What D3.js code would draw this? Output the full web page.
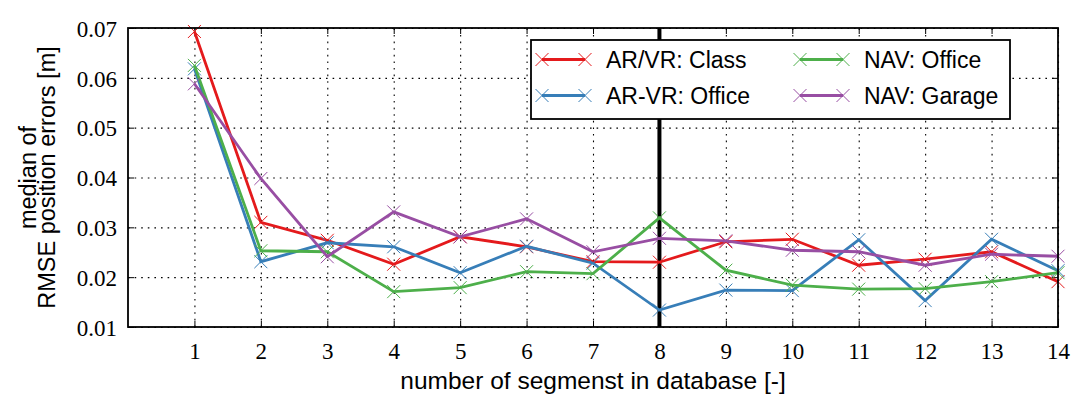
<!DOCTYPE html>
<html>
<head>
<meta charset="utf-8">
<script src="https://cdn.jsdelivr.net/npm/d3@7"></script>
<style>
  html, body { margin: 0; padding: 0; background: #fff; }
  svg { display: block; }
</style>
</head>
<body>
<svg id="chart" width="1086" height="409"></svg>
<script>
// ---- data ----
const segments = [1, 2, 3, 4, 5, 6, 7, 8, 9, 10, 11, 12, 13, 14];
const arvrClass  = [0.0693, 0.0310, 0.0274, 0.0226, 0.0281, 0.0261, 0.0231, 0.0230, 0.0271, 0.0276, 0.0224, 0.0236, 0.0251, 0.0191];
const arvrOffice = [0.0618, 0.0231, 0.0269, 0.0261, 0.0209, 0.0262, 0.0228, 0.0134, 0.0174, 0.0173, 0.0275, 0.0153, 0.0276, 0.0213];
const navOffice  = [0.0625, 0.0253, 0.0251, 0.0171, 0.0179, 0.0211, 0.0207, 0.0319, 0.0214, 0.0184, 0.0176, 0.0177, 0.0191, 0.0209];
const navGarage  = [0.0588, 0.0398, 0.0241, 0.0331, 0.0281, 0.0317, 0.0251, 0.0278, 0.0273, 0.0254, 0.0251, 0.0224, 0.0246, 0.0242];
const seriesNames = ["AR/VR: Class", "AR-VR: Office", "NAV: Office", "NAV: Garage"];
const seriesColors = ["#e41a1c", "#377eb8", "#4daf4a", "#984ea3"];
const xTickValues = [1, 2, 3, 4, 5, 6, 7, 8, 9, 10, 11, 12, 13, 14];
const yTickValues = [0.01, 0.02, 0.03, 0.04, 0.05, 0.06, 0.07];
const markerLineAt = 8;
const xLabel = "number of segmenst in database [-]";
const yLabelLines = ["median of", "RMSE position errors [m]"];

const allSeries = [arvrClass, arvrOffice, navOffice, navGarage];

// ---- layout ----
const svg = d3.select("#chart");
const L = 128, R = 1058, T = 28, B = 327;
const x = d3.scaleLinear().domain([0, 14]).range([L, R]);
const y = d3.scaleLinear().domain([0.01, 0.07]).range([B, T]);

const serif = "'Liberation Serif', 'DejaVu Serif', serif";
const sans = "'Liberation Sans', Arial, sans-serif";

// grid (dotted)
const gx = svg.append("g").attr("transform", `translate(0,${B})`)
  .call(d3.axisBottom(x).tickValues(xTickValues).tickSize(-(B - T)).tickFormat(""));
const gy = svg.append("g").attr("transform", `translate(${L},0)`)
  .call(d3.axisLeft(y).tickValues(yTickValues).tickSize(-(R - L)).tickFormat(""));
[gx, gy].forEach(g => {
  g.select(".domain").remove();
  g.selectAll(".tick line").attr("stroke", "#000").attr("stroke-width", 1.1)
    .attr("stroke-dasharray", "1.6,5");
});

// vertical reference line
svg.append("line")
  .attr("x1", x(markerLineAt)).attr("x2", x(markerLineAt))
  .attr("y1", y(0.01)).attr("y2", y(0.07))
  .attr("stroke", "#000").attr("stroke-width", 4);

// axes with inward ticks (all four sides)
const ab = svg.append("g").attr("transform", `translate(0,${B})`)
  .call(d3.axisBottom(x).tickValues(xTickValues).tickSize(-6).tickPadding(16).tickFormat(d3.format("d")));
const at = svg.append("g").attr("transform", `translate(0,${T})`)
  .call(d3.axisTop(x).tickValues(xTickValues).tickSize(-6).tickFormat(""));
const al = svg.append("g").attr("transform", `translate(${L},0)`)
  .call(d3.axisLeft(y).tickValues(yTickValues).tickSize(-6).tickPadding(11).tickFormat(d3.format(".2f")));
const ar = svg.append("g").attr("transform", `translate(${R},0)`)
  .call(d3.axisRight(y).tickValues(yTickValues).tickSize(-6).tickFormat(""));
[ab, at, al, ar].forEach(g => {
  g.select(".domain").remove();
  g.selectAll(".tick line").attr("stroke", "#000").attr("stroke-width", 1);
  g.selectAll("text").attr("font-family", serif).attr("font-size", 23).attr("fill", "#000");
});
ab.selectAll("text").attr("dy", "0.71em");
al.selectAll("text").attr("dy", "0.36em");

// series
const line = d3.line().x((d, i) => x(segments[i])).y(d => y(d));
const xMark = "M-6.5,-6.5L6.5,6.5M-6.5,6.5L6.5,-6.5";
allSeries.forEach((vals, si) => {
  const g = svg.append("g");
  g.append("path").datum(vals).attr("d", line)
    .attr("fill", "none").attr("stroke", seriesColors[si]).attr("stroke-width", 2.8)
    .attr("stroke-linejoin", "miter");
  g.selectAll("path.m").data(vals).join("path").attr("class", "m")
    .attr("transform", (d, i) => `translate(${x(segments[i])},${y(d)})`)
    .attr("d", xMark).attr("stroke", seriesColors[si]).attr("stroke-width", 1).attr("fill", "none");
});

// frame
svg.append("rect").attr("x", L).attr("y", T).attr("width", R - L).attr("height", B - T)
  .attr("fill", "none").attr("stroke", "#000").attr("stroke-width", 1.8);

// legend
const lg = svg.append("g");
lg.append("rect").attr("x", 531).attr("y", 40).attr("width", 479).attr("height", 79)
  .attr("fill", "#fff").attr("stroke", "#000").attr("stroke-width", 1.8);
const legPos = [[542, 59.5], [542, 95.5], [800, 59.5], [800, 95.5]];
seriesNames.forEach((name, i) => {
  const [lx, ly] = legPos[i];
  lg.append("line").attr("x1", lx).attr("x2", lx + 43).attr("y1", ly).attr("y2", ly)
    .attr("stroke", seriesColors[i]).attr("stroke-width", 2.8);
  [lx, lx + 43].forEach(mx => {
    lg.append("path").attr("transform", `translate(${mx},${ly})`).attr("d", xMark)
      .attr("stroke", seriesColors[i]).attr("stroke-width", 1).attr("fill", "none");
  });
  lg.append("text").attr("x", lx + 64).attr("y", ly).attr("dy", "0.36em")
    .attr("font-family", sans).attr("font-size", 23).attr("fill", "#000").text(name);
});

// axis labels
svg.append("text").attr("x", (L + R) / 2).attr("y", 389).attr("text-anchor", "middle")
  .attr("font-family", sans).attr("font-size", 24.5).attr("fill", "#000").text(xLabel);
const yl = svg.append("text").attr("transform", `translate(0,${(T + B) / 2}) rotate(-90)`)
  .attr("text-anchor", "middle").attr("font-family", sans).attr("font-size", 23.5).attr("fill", "#000");
yl.append("tspan").attr("x", 0).attr("y", 36).text(yLabelLines[0]);
yl.append("tspan").attr("x", 0).attr("y", 55).text(yLabelLines[1]);
</script>
</body>
</html>
